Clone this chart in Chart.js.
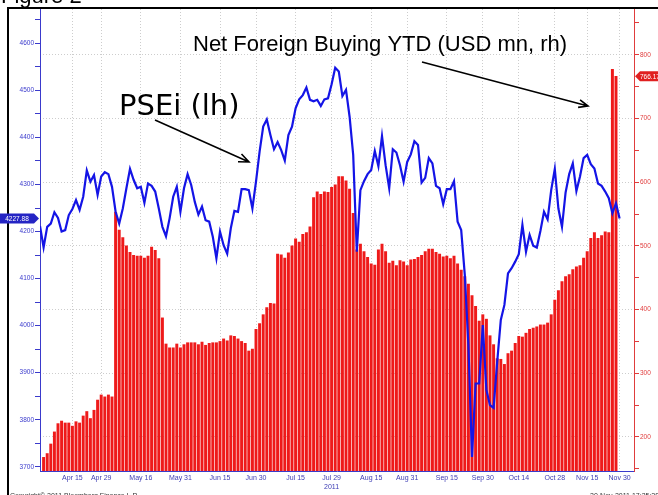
<!DOCTYPE html>
<html>
<head>
<meta charset="utf-8">
<script src="https://cdn.jsdelivr.net/npm/chart.js@4.4.1/dist/chart.umd.min.js"></script>
<style>
  html, body { margin: 0; padding: 0; background: #fff; }
  canvas { display: block; }
</style>
</head>
<body>
<canvas id="chart" width="658" height="495"></canvas>
<script>
"use strict";

// PSEi close, one value per trading day (early Apr .. end Nov 2011), left axis
var psei = [
  4212, 4166, 4210, 4217, 4241, 4229, 4200, 4203, 4235, 4248,
  4267, 4246, 4274, 4330, 4306, 4320, 4278, 4317, 4326, 4322,
  4295, 4242, 4217, 4249, 4292, 4333, 4310, 4292, 4295, 4261,
  4302, 4297, 4285, 4249, 4210, 4190, 4228, 4274, 4295, 4242,
  4292, 4322, 4299, 4263, 4236, 4253, 4224, 4221, 4189, 4143,
  4200, 4171, 4153, 4207, 4244, 4242, 4290, 4290, 4288, 4249,
  4306, 4370, 4423, 4438, 4405, 4375, 4390, 4373, 4351, 4405,
  4423, 4462, 4481, 4490, 4506, 4480, 4477, 4480, 4467, 4481,
  4483, 4513, 4548, 4540, 4488, 4501, 4444, 4363, 4157, 4288,
  4307, 4322, 4331, 4371, 4339, 4403, 4341, 4292, 4375, 4368,
  4341, 4306, 4348, 4364, 4392, 4384, 4304, 4314, 4356, 4345,
  4297, 4292, 4258, 4290, 4290, 4307, 4221, 4203, 4108, 3959,
  3721, 3877, 3877, 4001, 3863, 3831, 3825, 3923, 4012, 4044,
  4111, 4122, 4136, 4152, 4214, 4157, 4193, 4170, 4166, 4201,
  4242, 4226, 4288, 4333, 4249, 4210, 4283, 4322, 4345, 4286,
  4317, 4356, 4363, 4343, 4334, 4302, 4297, 4285, 4271, 4239,
  4260, 4227.88
];

// Net foreign buying YTD (USD mn), right axis; starts on the second trading day
var netForeign = [
  168, 174, 189, 208, 221, 225, 222, 222, 217, 224,
  222, 233, 240, 229, 242, 258, 266, 263, 266, 263,
  553, 525, 513, 500, 490, 485, 484, 484, 481, 484,
  498, 493, 480, 387, 346, 340, 340, 346, 340, 345,
  348, 348, 348, 345, 349, 344, 347, 348, 348, 350,
  354, 351, 359, 358, 354, 350, 347, 335, 338, 369,
  378, 392, 403, 410, 409, 487, 486, 481, 489, 500,
  511, 506, 518, 521, 530, 576, 585, 581, 585, 584,
  592, 596, 609, 609, 602, 589, 551, 494, 503, 491,
  482, 472, 470, 494, 503, 491, 473, 476, 469, 477,
  475, 469, 478, 479, 482, 485, 491, 495, 495, 490,
  487, 483, 484, 480, 484, 472, 462, 452, 440, 422,
  405, 382, 392, 385, 359, 345, 323, 322, 314, 331,
  335, 347, 358, 357, 363, 369, 371, 373, 376, 376,
  379, 392, 415, 430, 444, 452, 455, 463, 467, 469,
  481, 491, 512, 521, 512, 516, 522, 521, 777, 766.17
];

// date labels on the x axis and the trading-day index each one sits on
var tickLabels = ['Apr 15', 'Apr 29', 'May 16', 'May 31', 'Jun 15', 'Jun 30', 'Jul 15',
  ['Jul 29', '2011'], 'Aug 15', 'Aug 31', 'Sep 15', 'Sep 30', 'Oct 14', 'Oct 28', 'Nov 15', 'Nov 30'];
var tickIndex = [9, 17, 28, 39, 50, 60, 71, 81, 92, 102, 113, 123, 133, 143, 152, 161];

var leftTicks = [];
for (var v = 3700; v <= 4650; v += 50) leftTicks.push(v);
var rightTicks = [];
for (var w = 150; w <= 850; w += 50) rightTicks.push(w);

var BLUE = '#3a3acc';
var RED = '#e03c3c';
var GRID = '#cdcdcd';

function arrow(ctx, x1, y1, x2, y2, head) {
    var a = Math.atan2(y2 - y1, x2 - x1);
    ctx.beginPath();
    ctx.moveTo(x1, y1);
    ctx.lineTo(x2, y2);
    ctx.moveTo(x2 - head * Math.cos(a - 0.4), y2 - head * Math.sin(a - 0.4));
    ctx.lineTo(x2, y2);
    ctx.lineTo(x2 - head * Math.cos(a + 0.4), y2 - head * Math.sin(a + 0.4));
    ctx.stroke();
}

var decorations = {
    id: 'decorations',
    beforeDraw: function (chart) {
        var ctx = chart.ctx;
        ctx.save();
        ctx.fillStyle = '#fff';
        ctx.fillRect(0, 0, chart.width, chart.height);
        ctx.restore();
    },
    afterDraw: function (chart) {
        var ctx = chart.ctx;
        ctx.save();

        // frame and cropped caption
        ctx.strokeStyle = '#000';
        ctx.lineWidth = 2;
        ctx.beginPath();
        ctx.moveTo(8, 495);
        ctx.lineTo(8, 8);
        ctx.lineTo(658, 8);
        ctx.stroke();
        ctx.fillStyle = '#000';
        ctx.font = '22px "Liberation Sans"';
        ctx.textBaseline = 'alphabetic';
        ctx.fillText('Figure 2', 1, 3);

        // annotations
        ctx.fillText('Net Foreign Buying YTD (USD mn, rh)', 193, 51);
        ctx.font = '29px "DejaVu Sans"';
        ctx.fillText('PSEi (lh)', 119, 115);
        ctx.lineWidth = 1.6;
        arrow(ctx, 155, 120, 249, 162, 11);
        arrow(ctx, 422, 62, 588, 106, 10);

        // last-value markers
        ctx.font = '6.5px "Liberation Sans"';
        ctx.textBaseline = 'middle';
        var yl = chart.scales.yL.getPixelForValue(psei[psei.length - 1]);
        ctx.fillStyle = '#2424c4';
        ctx.beginPath();
        ctx.moveTo(0, yl - 5); ctx.lineTo(34, yl - 5); ctx.lineTo(39, yl);
        ctx.lineTo(34, yl + 5); ctx.lineTo(0, yl + 5); ctx.closePath();
        ctx.fill();
        ctx.fillStyle = '#fff';
        ctx.textAlign = 'center';
        ctx.fillText(String(psei[psei.length - 1]), 17, yl + 0.5);

        var yr = chart.scales.yR.getPixelForValue(netForeign[netForeign.length - 1]);
        ctx.fillStyle = '#e02020';
        ctx.beginPath();
        ctx.moveTo(635, yr); ctx.lineTo(640, yr - 5); ctx.lineTo(658, yr - 5);
        ctx.lineTo(658, yr + 5); ctx.lineTo(640, yr + 5); ctx.closePath();
        ctx.fill();
        ctx.fillStyle = '#fff';
        ctx.textAlign = 'left';
        ctx.fillText(String(netForeign[netForeign.length - 1]), 640, yr + 0.5);

        // footer, cut by the page edge
        ctx.fillStyle = '#333';
        ctx.font = '7px "Liberation Sans"';
        ctx.textBaseline = 'alphabetic';
        ctx.fillText('Copyright\u00a9 2011 Bloomberg Finance L.P.', 10, 498);
        ctx.fillText('30-Nov-2011 17:35:28', 590, 498);
        ctx.restore();
    }
};

var ctx = document.getElementById('chart').getContext('2d');
var myChart = new Chart(ctx, {
    type: 'bar',
    data: {
        datasets: [{
            type: 'line',
            label: 'PSEi',
            data: psei.map(function (p, i) { return { x: i, y: p }; }),
            yAxisID: 'yL',
            borderColor: '#1414e6',
            borderWidth: 2.2,
            pointRadius: 0,
            tension: 0,
            order: 1
        },
        {
            type: 'bar',
            label: 'Net Foreign Buying YTD',
            data: netForeign.map(function (n, i) { return { x: i + 1, y: n }; }),
            yAxisID: 'yR',
            backgroundColor: '#ee1a1a',
            borderWidth: 0,
            barThickness: 2.3,
            order: 2
        }]
    },
    options: {
        responsive: false,
        animation: false,
        devicePixelRatio: 1,
        layout: { padding: { top: 9, left: 0, right: 0, bottom: 0 } },
        plugins: {
            legend: { display: false },
            tooltip: { enabled: false }
        },
        scales: {
            x: {
                type: 'linear',
                min: 0,
                max: 165,
                offset: false,
                afterBuildTicks: function (s) { s.ticks = tickIndex.map(function (t) { return { value: t }; }); },
                afterFit: function (s) { s.height = 24; },
                ticks: {
                    autoSkip: false,
                    maxRotation: 0,
                    padding: 3,
                    color: '#3c3cb4',
                    font: { family: 'Liberation Sans', size: 7 },
                    callback: function (val, i) { return tickLabels[i]; }
                },
                grid: { color: GRID, drawTicks: false, offset: false },
                border: { color: BLUE, dash: [1, 2] }
            },
            yL: {
                position: 'left',
                min: 3691,
                max: 4673,
                beginAtZero: false,
                afterBuildTicks: function (s) { s.ticks = leftTicks.map(function (t) { return { value: t }; }); },
                afterFit: function (s) { s.width = 40; },
                ticks: {
                    color: BLUE,
                    padding: 1,
                    font: { family: 'Liberation Sans', size: 6.5 },
                    callback: function (val) { return val % 100 === 0 ? String(val) : ''; }
                },
                grid: { drawOnChartArea: false, tickLength: 5, tickColor: BLUE },
                border: { color: BLUE }
            },
            yR: {
                position: 'right',
                min: 146.6,
                max: 871.9,
                beginAtZero: false,
                afterBuildTicks: function (s) { s.ticks = rightTicks.map(function (t) { return { value: t }; }); },
                afterFit: function (s) { s.width = 24; },
                ticks: {
                    color: RED,
                    padding: 1,
                    font: { family: 'Liberation Sans', size: 6.5 },
                    callback: function (val) { return val % 100 === 0 ? String(val) : ''; }
                },
                grid: {
                    color: function (c) { return c.tick && c.tick.value % 100 === 0 ? GRID : 'rgba(0,0,0,0)'; },
                    tickColor: RED,
                    tickLength: 5
                },
                border: { color: RED, dash: [1, 2] }
            }
        }
    },
    plugins: [decorations]
});
</script>
</body>
</html>
